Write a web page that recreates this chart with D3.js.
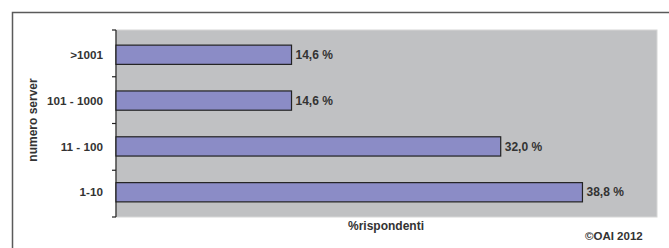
<!doctype html>
<html lang="it">
<head>
    <meta charset="utf-8">
    <title>numero server</title>
    <script src="https://cdnjs.cloudflare.com/ajax/libs/d3/7.8.5/d3.min.js"></script>
    <style>
        body { margin: 0; background: #fff; }
        #chart text {
            font-family: "Liberation Sans", Arial, sans-serif;
            font-weight: bold;
            fill: #333;
        }
    </style>
</head>
<body>
    <div id="chart"></div>
    <script>
        // categories, top to bottom
        var categories = [">1001", "101 - 1000", "11 - 100", "1-10"];
        var values = [14.6, 14.6, 32.0, 38.8];
        var valueLabels = ["14,6 %", "14,6 %", "32,0 %", "38,8 %"];

        var width = 669, height = 248;
        var plot = { left: 116, top: 30, right: 657, bottom: 217 };

        var svg = d3.select("#chart")
            .append("svg")
            .attr("width", width)
            .attr("height", height);

        // outer frame
        svg.append("path")
            .attr("d", "M12.5," + height + "V12.5H" + width)
            .attr("fill", "none")
            .attr("stroke", "#5a5a5a")
            .attr("stroke-width", 1.5);

        var x = d3.scaleLinear()
            .domain([0, 45])
            .range([plot.left, plot.right]);

        var y = d3.scaleBand()
            .domain(categories)
            .range([plot.top, plot.bottom])
            .paddingInner(0.58)
            .paddingOuter(0.33);

        // plot area
        svg.append("rect")
            .attr("x", plot.left)
            .attr("y", plot.top)
            .attr("width", plot.right - plot.left)
            .attr("height", plot.bottom - plot.top)
            .attr("fill", "#c0c1c3")
            .attr("stroke", "#d6d6d6")
            .attr("stroke-width", 1);

        // category axis with ticks between bands
        var step = (plot.bottom - plot.top) / categories.length;
        var boundaries = d3.range(categories.length + 1).map(function(i) { return plot.top + i * step; });
        var axis = svg.append("g");
        axis.append("line")
            .attr("x1", plot.left).attr("x2", plot.left)
            .attr("y1", plot.top).attr("y2", plot.bottom)
            .attr("stroke", "#222").attr("stroke-width", 1.2);
        axis.selectAll("line.tick")
            .data(boundaries)
            .enter()
            .append("line")
            .attr("class", "tick")
            .attr("x1", plot.left - 4).attr("x2", plot.left)
            .attr("y1", function(d) { return d; }).attr("y2", function(d) { return d; })
            .attr("stroke", "#222").attr("stroke-width", 1.2);

        axis.selectAll("text")
            .data(categories)
            .enter()
            .append("text")
            .attr("x", plot.left - 13)
            .attr("y", function(d) { return y(d) + y.bandwidth() / 2; })
            .attr("dy", ".35em")
            .attr("text-anchor", "end")
            .attr("font-size", 11.7)
            .text(function(d) { return d; });

        // bars
        var bar = svg.selectAll("g.bar")
            .data(values)
            .enter()
            .append("g")
            .attr("class", "bar");

        bar.append("rect")
            .attr("x", x(0))
            .attr("y", function(d, i) { return y(categories[i]); })
            .attr("width", function(d) { return x(d) - x(0); })
            .attr("height", y.bandwidth())
            .attr("fill", "#8b8cc6")
            .attr("stroke", "#222")
            .attr("stroke-width", 1.2);

        bar.append("text")
            .attr("x", function(d) { return x(d) + 4; })
            .attr("y", function(d, i) { return y(categories[i]) + y.bandwidth() / 2; })
            .attr("dy", ".35em")
            .attr("font-size", 12)
            .text(function(d, i) { return valueLabels[i]; });

        // axis titles
        svg.append("text")
            .attr("transform", "translate(37,120) rotate(-90)")
            .attr("text-anchor", "middle")
            .attr("font-size", 12)
            .text("numero server");

        svg.append("text")
            .attr("x", 348)
            .attr("y", 230)
            .attr("font-size", 12)
            .text("%rispondenti");

        svg.append("text")
            .attr("x", 585)
            .attr("y", 240)
            .attr("font-size", 11.5)
            .text("©OAI 2012");
    </script>
</body>
</html>
